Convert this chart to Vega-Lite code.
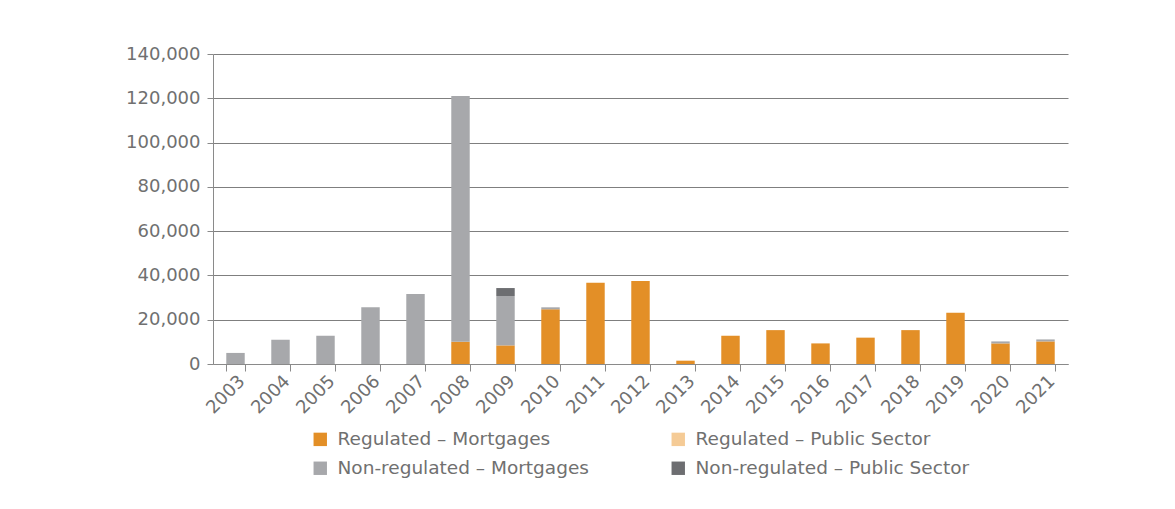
{
  "$schema": "https://vega.github.io/schema/vega-lite/v6.json",
  "width": 855,
  "height": 310,
  "autosize": {"type": "none"},
  "padding": {"left": 213, "top": 54, "right": 107, "bottom": 145},
  "background": "white",
  "config": {
    "font": "DejaVu Sans",
    "view": {"stroke": null},
    "axis": {"labelColor": "#707070", "labelFontSize": 18, "domainColor": "#8a8a8a", "tickColor": "#8a8a8a", "gridColor": "#7f7f7f", "gridOpacity": 1},
    "legend": {"labelColor": "#707070", "labelFontSize": 18.5}
  },
  "data": {
    "values": [
      {"year": "2003", "series": "Non-regulated – Mortgages", "rank": 3, "value": 5000},
      {"year": "2004", "series": "Non-regulated – Mortgages", "rank": 3, "value": 11000},
      {"year": "2005", "series": "Non-regulated – Mortgages", "rank": 3, "value": 12800},
      {"year": "2006", "series": "Non-regulated – Mortgages", "rank": 3, "value": 25600},
      {"year": "2007", "series": "Non-regulated – Mortgages", "rank": 3, "value": 31600},
      {"year": "2008", "series": "Regulated – Mortgages", "rank": 1, "value": 10000},
      {"year": "2008", "series": "Non-regulated – Mortgages", "rank": 3, "value": 111000},
      {"year": "2009", "series": "Regulated – Mortgages", "rank": 1, "value": 8400},
      {"year": "2009", "series": "Non-regulated – Mortgages", "rank": 3, "value": 22300},
      {"year": "2009", "series": "Non-regulated – Public Sector", "rank": 4, "value": 3600},
      {"year": "2010", "series": "Regulated – Mortgages", "rank": 1, "value": 24700},
      {"year": "2010", "series": "Non-regulated – Mortgages", "rank": 3, "value": 900},
      {"year": "2011", "series": "Regulated – Mortgages", "rank": 1, "value": 36700},
      {"year": "2012", "series": "Regulated – Mortgages", "rank": 1, "value": 37500},
      {"year": "2013", "series": "Regulated – Mortgages", "rank": 1, "value": 1500},
      {"year": "2014", "series": "Regulated – Mortgages", "rank": 1, "value": 12800},
      {"year": "2015", "series": "Regulated – Mortgages", "rank": 1, "value": 15300},
      {"year": "2016", "series": "Regulated – Mortgages", "rank": 1, "value": 9300},
      {"year": "2017", "series": "Regulated – Mortgages", "rank": 1, "value": 11900},
      {"year": "2018", "series": "Regulated – Mortgages", "rank": 1, "value": 15300},
      {"year": "2019", "series": "Regulated – Mortgages", "rank": 1, "value": 23200},
      {"year": "2020", "series": "Regulated – Mortgages", "rank": 1, "value": 9300},
      {"year": "2020", "series": "Non-regulated – Mortgages", "rank": 3, "value": 900},
      {"year": "2021", "series": "Regulated – Mortgages", "rank": 1, "value": 10200},
      {"year": "2021", "series": "Non-regulated – Mortgages", "rank": 3, "value": 900}
    ]
  },
  "mark": {"type": "bar"},
  "encoding": {
    "x": {
      "field": "year", "type": "ordinal", "title": null,
      "scale": {"paddingInner": 0.59, "paddingOuter": 0.295},
      "axis": {"labelAngle": -45, "tickBand": "extent", "tickSize": 7, "labelPadding": 1, "grid": false}
    },
    "y": {
      "field": "value", "type": "quantitative", "stack": "zero", "title": null,
      "scale": {"domain": [0, 140000], "nice": false},
      "axis": {"values": [0, 20000, 40000, 60000, 80000, 100000, 120000, 140000], "format": ",.0f", "tickSize": 6, "labelPadding": 7, "grid": true}
    },
    "color": {
      "field": "series", "type": "nominal",
      "scale": {
        "domain": ["Regulated – Mortgages", "Regulated – Public Sector", "Non-regulated – Mortgages", "Non-regulated – Public Sector"],
        "range": ["#e38f27", "#f5cb96", "#a7a8ab", "#6d6e71"]
      },
      "legend": {"title": null, "orient": "none", "legendX": 98, "legendY": 376, "columns": 2, "direction": "horizontal", "symbolType": "square", "symbolSize": 180, "symbolStrokeWidth": 0, "columnPadding": 80, "rowPadding": 10, "labelOffset": 8, "labelLimit": 400}
    },
    "order": {"field": "rank", "type": "quantitative", "sort": "ascending"}
  }
}
